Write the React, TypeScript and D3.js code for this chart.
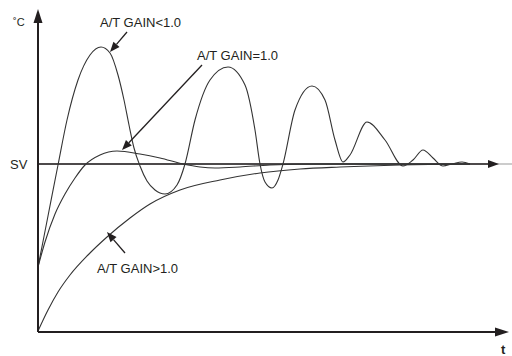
import React from "react";
import * as d3 from "d3";

// time (t) and temperature values; SV is the set value
const SV = 168;
const gainLessT = [0, 10, 20, 29, 40, 52, 63, 72, 80, 86, 91, 96, 102, 109, 117, 127, 139, 147, 157, 172, 190, 207, 217, 222, 227, 234, 240, 245, 257, 274, 287, 297, 305, 312, 329, 347, 365, 375, 385, 395, 405, 414, 424, 432];
const gainLessV = [65, 116, 167, 212, 252, 277, 285, 279, 257, 232, 207, 184, 166, 151, 142, 138, 147, 168, 212, 252, 265, 247, 202, 168, 150, 144, 152, 168, 222, 246, 232, 192, 170, 177, 210, 192, 166, 172, 182, 174, 166, 168, 170, 168];
const gainEqT = [0, 7, 17, 27, 37, 47, 62, 79, 102, 122, 145, 162, 177, 202, 232, 282, 432];
const gainEqV = [65, 90, 118, 138, 154, 167, 177, 181, 178, 174, 168, 165, 164, 165, 167, 168, 168];
const gainMoreT = [0, 10, 20, 32, 50, 69, 92, 112, 142, 182, 222, 262, 302, 362, 432];
const gainMoreV = [1, 22, 40, 57, 77, 95, 114, 128, 142, 152, 159, 163, 165, 167, 168];

const labels = ["A/T GAIN<1.0", "A/T GAIN=1.0", "A/T GAIN>1.0"];

const W = 512, H = 356;
const x = d3.scaleLinear().domain([0, 470]).range([38, 508]);
const y = d3.scaleLinear().domain([0, 320]).range([332, 12]);

const line = d3
  .line<[number, number]>()
  .x((d) => x(d[0]))
  .y((d) => y(d[1]))
  .curve(d3.curveMonotoneX);

const zip = (a: number[], b: number[]) => a.map((v, i) => [v, b[i]] as [number, number]);

const FONT = "'Liberation Sans', Arial, Helvetica, sans-serif";
const INK = "#231f20";

function Arrow({ x1, y1, x2, y2, len = 10, w = 4 }: any) {
  const a = Math.atan2(y2 - y1, x2 - x1);
  const bx = x2 - len * Math.cos(a);
  const by = y2 - len * Math.sin(a);
  const px = -Math.sin(a) * w;
  const py = Math.cos(a) * w;
  return (
    <g>
      <line x1={x1} y1={y1} x2={bx} y2={by} stroke={INK} strokeWidth={1.3} />
      <path d={`M${x2},${y2}L${bx + px},${by + py}L${bx - px},${by - py}Z`} fill={INK} />
    </g>
  );
}

export default function App() {
  const x0 = x(0), y0 = y(0), ySV = y(SV);
  return (
    <svg width={W} height={H} style={{ position: "absolute", left: 0, top: 0, background: "#fff" }} fontFamily={FONT}>
      {/* SV reference line */}
      <line x1={x0} y1={ySV} x2={W} y2={ySV} stroke="#999" strokeWidth={1.2} />
      <line x1={x0} y1={ySV} x2={490} y2={ySV} stroke={INK} strokeWidth={1.6} />
      <path d={`M${499},${ySV}L${488},${ySV - 4}L${488},${ySV + 4}Z`} fill={INK} />
      {/* curves */}
      <path d={line(zip(gainMoreT, gainMoreV)) || ""} fill="none" stroke="#333" strokeWidth={1.1} />
      <path d={line(zip(gainEqT, gainEqV)) || ""} fill="none" stroke="#333" strokeWidth={1.1} />
      <path d={line(zip(gainLessT, gainLessV)) || ""} fill="none" stroke="#333" strokeWidth={1.1} />
      {/* axes */}
      <line x1={x0} y1={y0} x2={x0} y2={20} stroke={INK} strokeWidth={2} />
      <path d={`M${x0},${9}L${x0 - 4.5},${23}L${x0 + 4.5},${23}Z`} fill={INK} />
      <line x1={x0} y1={y0} x2={500} y2={y0} stroke={INK} strokeWidth={2} />
      <path d={`M${509},${y0}L${495},${y0 - 4.5}L${495},${y0 + 4.5}Z`} fill={INK} />
      {/* texts */}
      <text x={13} y={26} fontSize={11} fill={INK}>˚C</text>
      <text x={10} y={169} fontSize={13} fill={INK}>SV</text>
      <text x={501} y={354} fontSize={13} fontWeight="bold" fill={INK}>t</text>
      <text x={100} y={27} fontSize={13} fill={INK}>{labels[0]}</text>
      <text x={197} y={60} fontSize={13} fill={INK}>{labels[1]}</text>
      <text x={97} y={273} fontSize={13} fill={INK}>{labels[2]}</text>
      {/* pointers */}
      <Arrow x1={127} y1={32} x2={110} y2={52} />
      <Arrow x1={202} y1={65} x2={122} y2={150} />
      <Arrow x1={125} y1={253} x2={107} y2={232} />
    </svg>
  );
}
